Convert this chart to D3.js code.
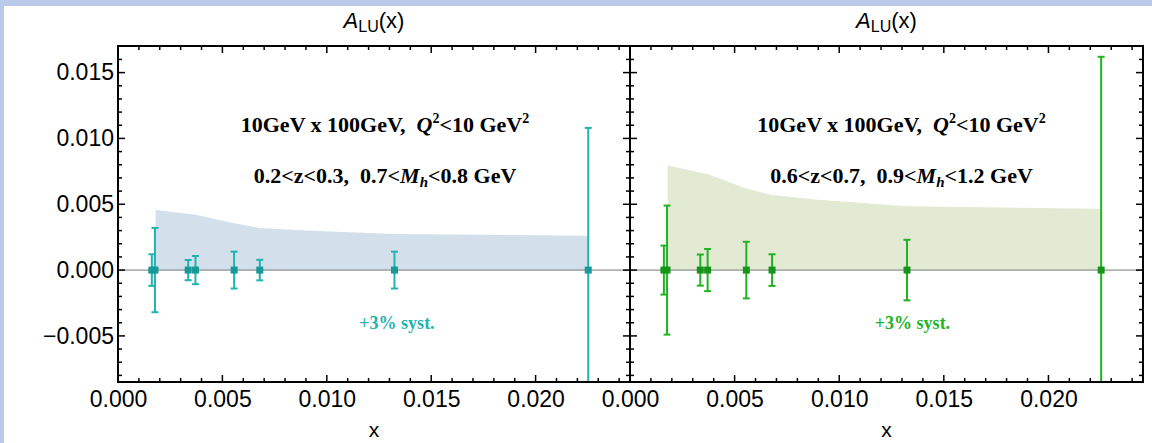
<!DOCTYPE html>
<html><head><meta charset="utf-8">
<script src="https://cdn.jsdelivr.net/npm/d3@7"></script>
<style>
body{margin:0;background:#b9cbe8;}
svg{display:block;}
text{white-space:pre;}
</style></head>
<body>
<svg id="c" width="1152" height="443"></svg>
<script>
// ---- data ----
const xPoints = [0.00162, 0.00177, 0.00336, 0.00371, 0.00556, 0.00679, 0.01324, 0.02252];
const leftVals = [0, 0, 0, 0, 0, 0, 0, 0];
const leftErr = [0.0012, 0.0032, 0.00077, 0.00107, 0.0014, 0.00078, 0.0014, 0.0108];
const rightVals = [0, 0, 0, 0, 0, 0, 0, 0];
const rightErr = [0.00186, 0.0049, 0.00118, 0.0016, 0.00215, 0.0012, 0.0023, 0.0162];
const leftBandX = [0.00180, 0.00371, 0.00556, 0.00679, 0.0090, 0.01324, 0.02252];
const leftBandY = [0.00456, 0.00420, 0.00355, 0.00320, 0.00300, 0.00275, 0.00260];
const rightBandX = [0.00180, 0.00340, 0.00371, 0.00556, 0.00679, 0.0090, 0.01324, 0.02252];
const rightBandY = [0.00795, 0.00740, 0.00730, 0.00620, 0.00570, 0.00535, 0.00485, 0.00465];
const xTicks = [0, 0.005, 0.010, 0.015, 0.020];
const yTicks = [-0.005, 0, 0.005, 0.010, 0.015];
const xDomain = [0, 0.02452];
const yDomain = [-0.0085, 0.01702];
const panels = [
  {x0:118, x1:630, vals:leftVals, err:leftErr, bx:leftBandX, by:leftBandY,
   line:"#1fb4b1", mark:"#159a97", band:"#d3dfea",
   l1:"0.2<z<0.3,  0.7<", l2:"<0.8 GeV", dx:11, sx:23, showY:true},
  {x0:630, x1:1143, vals:rightVals, err:rightErr, bx:rightBandX, by:rightBandY,
   line:"#22b322", mark:"#15961a", band:"#e2ead3",
   l1:"0.6<z<0.7,  0.9<", l2:"<1.2 GeV", dx:15, sx:26, showY:false}
];
const yTop = 46, yBot = 382;
const sans = "'Liberation Sans', Arial, sans-serif";
const serif = "'Liberation Serif', 'Times New Roman', serif";

const svg = d3.select("#c");
svg.append("rect").attr("x",4).attr("y",6).attr("width",1148).attr("height",437).attr("fill","#fff");

const y = d3.scaleLinear().domain(yDomain).range([yBot, yTop]);
const fmt = d3.format(".3f");
const minor = d3.range(-0.008, 0.0171, 0.001).map(v=>+v.toFixed(4));
const xMinor = d3.range(0, 0.0245, 0.001).map(v=>+v.toFixed(4));

panels.forEach(p=>{
  const x = d3.scaleLinear().domain(xDomain).range([p.x0, p.x1]);
  const g = svg.append("g");
  const cx = (p.x0+p.x1)/2;

  // band
  const area = d3.area().x((d,i)=>x(p.bx[i])).y0(y(0)).y1((d,i)=>y(p.by[i]));
  g.append("path").datum(p.bx).attr("d", area).attr("fill", p.band);

  // zero line
  g.append("line").attr("x1",p.x0).attr("x2",p.x1).attr("y1",y(0)).attr("y2",y(0))
    .attr("stroke","#777").attr("stroke-width",1);

  // error bars
  const clipId = "clip"+p.x0;
  svg.append("clipPath").attr("id",clipId).append("rect")
    .attr("x",p.x0).attr("y",yTop).attr("width",p.x1-p.x0).attr("height",yBot-yTop);
  const eb = g.append("g").attr("clip-path",`url(#${clipId})`);
  xPoints.forEach((xv,i)=>{
    const px = x(xv), v = p.vals[i], e = p.err[i];
    eb.append("line").attr("x1",px).attr("x2",px).attr("y1",y(v-e)).attr("y2",y(v+e))
      .attr("stroke",p.line).attr("stroke-width",2);
    [v-e, v+e].forEach(c=>{
      eb.append("line").attr("x1",px-3.5).attr("x2",px+3.5).attr("y1",y(c)).attr("y2",y(c))
        .attr("stroke",p.line).attr("stroke-width",2);
    });
  });
  xPoints.forEach((xv,i)=>{
    const px = x(xv);
    eb.append("rect").attr("x",px-3.5).attr("y",y(p.vals[i])-3.5).attr("width",7).attr("height",7)
      .attr("fill",p.mark);
  });

  // bottom axis labels
  const axB = d3.axisBottom(x).tickValues(xTicks).tickFormat(fmt).tickSize(0).tickPadding(9);
  const gb = g.append("g").attr("transform",`translate(0,${yBot})`).call(axB);
  gb.select(".domain").remove();
  gb.selectAll("text").attr("font-family",sans).attr("font-size",23).attr("fill","#000");

  // inside ticks on all four sides
  const tickG = g.append("g").attr("stroke","#000").attr("stroke-width",1.5);
  xMinor.forEach(v=>{
    const major = xTicks.some(t=>Math.abs(t-v)<1e-7);
    const L = major?7:4;
    tickG.append("line").attr("x1",x(v)).attr("x2",x(v)).attr("y1",yBot).attr("y2",yBot-L);
    tickG.append("line").attr("x1",x(v)).attr("x2",x(v)).attr("y1",yTop).attr("y2",yTop+L);
  });
  minor.forEach(v=>{
    if (v < yDomain[0] || v > yDomain[1]) return;
    const major = yTicks.some(t=>Math.abs(t-v)<1e-7);
    const L = major?7:4;
    tickG.append("line").attr("x1",p.x0).attr("x2",p.x0+L).attr("y1",y(v)).attr("y2",y(v));
    tickG.append("line").attr("x1",p.x1).attr("x2",p.x1-L).attr("y1",y(v)).attr("y2",y(v));
  });

  if (p.showY){
    const axL = d3.axisLeft(y).tickValues(yTicks).tickSize(0).tickPadding(4)
      .tickFormat(d=> (d<0?"\u2212":"") + fmt(Math.abs(d)));
    const gl = g.append("g").attr("transform",`translate(${p.x0},0)`).call(axL);
    gl.select(".domain").remove();
    gl.selectAll("text").attr("font-family",sans).attr("font-size",23).attr("fill","#000");
  }

  // frame
  g.append("rect").attr("x",p.x0).attr("y",yTop).attr("width",p.x1-p.x0).attr("height",yBot-yTop)
    .attr("fill","none").attr("stroke","#000").attr("stroke-width",2);

  // title
  const t = g.append("text").attr("x",cx).attr("y",28).attr("text-anchor","middle")
    .attr("font-family",sans).attr("font-size",22);
  t.append("tspan").attr("font-style","italic").text("A");
  t.append("tspan").attr("font-size",16).attr("dy",4).text("LU");
  t.append("tspan").attr("dy",-4).text("(x)");

  // x label
  g.append("text").attr("x",cx).attr("y",437).attr("text-anchor","middle")
    .attr("font-family",sans).attr("font-size",21).text("x");

  // annotations
  const a1 = g.append("text").attr("x",cx+p.dx).attr("y",132).attr("text-anchor","middle")
    .attr("font-family",serif).attr("font-weight","bold").attr("font-size",22);
  a1.append("tspan").text("10GeV x 100GeV,  ");
  a1.append("tspan").attr("font-style","italic").text("Q");
  a1.append("tspan").attr("font-size",14).attr("dy",-9).text("2");
  a1.append("tspan").attr("dy",9).text("<10 GeV");
  a1.append("tspan").attr("font-size",14).attr("dy",-9).text("2");

  const a2 = g.append("text").attr("x",cx+p.dx).attr("y",183).attr("text-anchor","middle")
    .attr("font-family",serif).attr("font-weight","bold").attr("font-size",22);
  a2.append("tspan").text(p.l1);
  a2.append("tspan").attr("font-style","italic").text("M");
  a2.append("tspan").attr("font-style","italic").attr("font-size",15).attr("dy",4).text("h");
  a2.append("tspan").attr("dy",-4).text(p.l2);

  g.append("text").attr("x",cx+p.sx).attr("y",329).attr("text-anchor","middle")
    .attr("font-family",serif).attr("font-weight","bold").attr("font-size",18).attr("fill",p.line)
    .text("+3% syst.");
});
</script>
</body></html>
